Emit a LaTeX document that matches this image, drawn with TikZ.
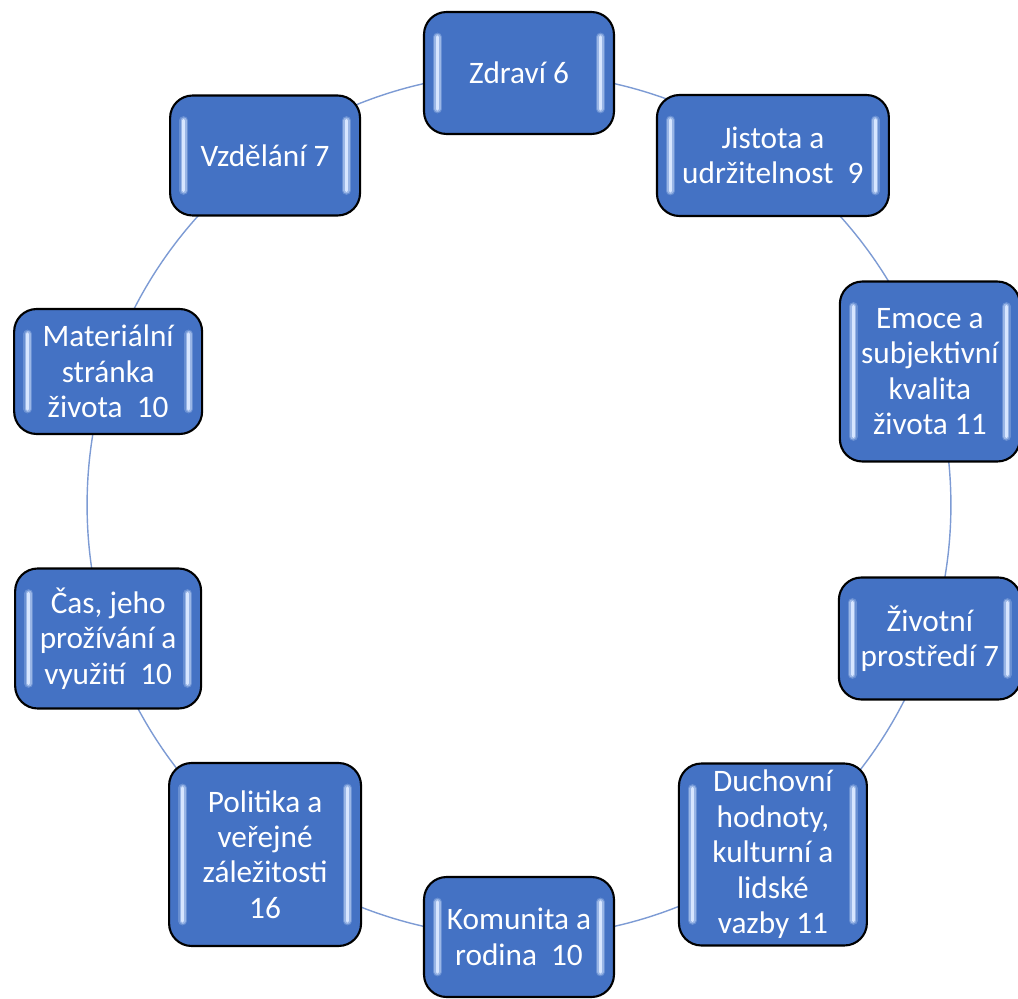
\documentclass[tikz,border=0pt]{standalone}
\usepackage{fontspec}
\setmainfont{Carlito}
\usepackage{tikz}
\usetikzlibrary{calc}
\definecolor{boxblue}{RGB}{68,114,196}
\definecolor{ringblue}{RGB}{125,155,212}
\definecolor{glowblue}{RGB}{215,230,255}
\tikzset{
  oblast/.style={
      draw=black,
      line width=1.2pt,
      fill=boxblue,
      rounded corners=0.45cm,
      align=center,
      text=white,
      font=\fontsize{17.8}{20.2}\selectfont,
      inner sep=0pt,
      path picture={
        \foreach \w/\o in {5pt/0.25,3.5pt/0.45,1.8pt/1} {
          \draw[zare, line width=\w, opacity=\o]
              ($(path picture bounding box.north west)+(0.27cm,-0.5cm)$)
              -- ($(path picture bounding box.south west)+(0.27cm,0.5cm)$);
          \draw[zare, line width=\w, opacity=\o]
              ($(path picture bounding box.north east)+(-0.27cm,-0.5cm)$)
              -- ($(path picture bounding box.south east)+(-0.27cm,0.5cm)$);
        }
      },
  },
  zare/.style={
      line cap=round,
      color=glowblue,
      rounded corners=0pt,
  },
  kruh/.style={
      draw=ringblue,
      line width=0.8pt
  },
}

\begin{document}
\begin{tikzpicture}[x=0.02cm,y=0.02cm]
  \useasboundingbox (-519,-493) rectangle (499,505);
  % the ring behind the boxes
  \draw[kruh] (0,0) circle (8.64cm);

  \node[oblast, minimum width=3.8cm, minimum height=2.44cm] (zdravi) at (90:432) {Zdraví 6};
  \node[oblast, minimum width=4.64cm, minimum height=2.42cm] (jistota) at (54:432) {Jistota a\\udržitelnost\ \ 9};
  \node[oblast, minimum width=3.6cm, minimum height=3.6cm] (emoce) at (18:432) {Emoce a\\subjektivní\\kvalita\\života 11};
  \node[oblast, minimum width=3.64cm, minimum height=2.44cm] (prostredi) at (-18:432) {Životní\\prostředí 7};
  \node[oblast, minimum width=3.76cm, minimum height=3.64cm] (duchovni) at (-54:432) {Duchovní\\hodnoty,\\kulturní a\\lidské\\vazby 11};
  \node[oblast, minimum width=3.8cm, minimum height=2.4cm] (komunita) at (-90:432) {Komunita a\\rodina\ \ 10};
  \node[oblast, minimum width=3.84cm, minimum height=3.66cm] (politika) at (-126:432) {Politika a\\veřejné\\záležitosti\\16};
  \node[oblast, minimum width=3.72cm, minimum height=2.8cm] (cas) at (-162:432) {Čas, jeho\\prožívání a\\využití\ \ 10};
  \node[oblast, minimum width=3.76cm, minimum height=2.5cm] (materialni) at (162:432) {Materiální\\stránka\\života\ \ 10};
  \node[oblast, minimum width=3.8cm, minimum height=2.4cm] (vzdelani) at (126:432) {Vzdělání 7};
\end{tikzpicture}
\end{document}
